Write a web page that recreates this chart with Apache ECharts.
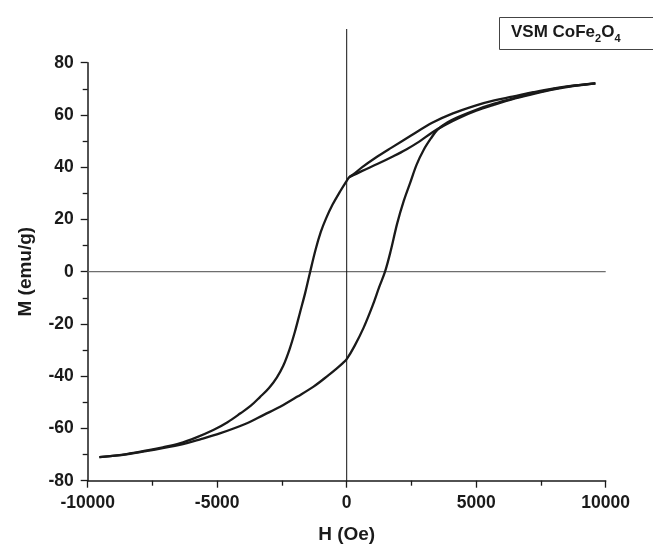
<!DOCTYPE html>
<html>
<head>
<meta charset="utf-8">
<script src="https://cdn.jsdelivr.net/npm/echarts@6/dist/echarts.min.js"></script>
<style>
  html, body { margin: 0; padding: 0; background: #ffffff; }
  #chart { width: 653px; height: 556px; }
</style>
</head>
<body>
<div id="chart"></div>
<script>
// Axis tick labels
const hTicks = [-10000, -5000, 0, 5000, 10000];
const mTicks = [-80, -60, -40, -20, 0, 20, 40, 60, 80];

// Field (Oe) / magnetization (emu/g) pairs, in measurement order.
// First sweep: from remanence up to the positive field limit.
const initialSweep = [
  [100, 36.2], [600, 38.6], [1200, 41.3], [1800, 44.2], [2300, 46.8],
  [2800, 49.8], [3300, 53.3], [3800, 56.2], [4300, 58.7], [5000, 61.6],
  [5700, 63.9], [6500, 66.3], [7300, 68.3], [8000, 69.8], [8800, 71.1],
  [9600, 72.1]
];

// Descending branch: +Hmax to -Hmax.
const descendingBranch = [
  [9600, 72.1], [8800, 71.3], [8000, 70.2], [7200, 68.7], [6400, 67.0],
  [5700, 65.6], [5000, 63.7], [4100, 60.6], [3300, 57.0], [2500, 52.2],
  [1700, 47.3], [1100, 43.5], [600, 40.0], [250, 37.2], [100, 36.2],
  [0, 34.8], [-250, 30.8], [-550, 25.6], [-800, 20.3], [-1000, 15.2],
  [-1200, 8.5], [-1410, 0], [-1600, -8.0], [-1800, -15.5], [-2000, -23.0],
  [-2200, -29.5], [-2450, -36.0], [-2700, -40.5], [-3000, -44.5],
  [-3350, -48.0], [-3700, -51.3], [-4100, -54.2], [-4600, -57.6],
  [-5150, -60.6], [-5800, -63.4], [-6450, -65.7], [-7100, -67.2],
  [-7700, -68.4], [-8500, -69.8], [-9550, -71.0]
];

// Ascending branch: -Hmax back to +Hmax.
const ascendingBranch = [
  [-9550, -71.0], [-8500, -69.9], [-7700, -68.6], [-6450, -66.3],
  [-5600, -64.0], [-4900, -61.9], [-3850, -58.0], [-3200, -54.8],
  [-2570, -51.7], [-1900, -47.8], [-1280, -44.0], [-700, -39.6],
  [-380, -37.0], [-150, -35.0], [0, -33.5], [300, -28.5], [650, -21.5],
  [1000, -13.0], [1250, -6.0], [1480, 0], [1700, 8.0], [1950, 18.5],
  [2200, 27.0], [2450, 34.0], [2700, 41.0], [2970, 46.6], [3250, 51.0],
  [3500, 54.3], [3900, 57.2], [4300, 59.2], [5000, 62.0], [5700, 64.3],
  [6500, 66.5], [7300, 68.5], [8000, 70.0], [8800, 71.2], [9600, 72.1]
];

// Reference lines through the origin
const zeroH = [[0, -80], [0, 92.9]];
const zeroM = [[-10000, 0], [10000, 0]];

const FONT = '"Liberation Sans", Arial, sans-serif';
const INK = '#1a1a1a';

const chart = echarts.init(document.getElementById('chart'), null, { renderer: 'canvas' });

const gridPos = { left: 87.7, right: 47.3 };

const loopStyle = {
  type: 'line',
  xAxisIndex: 0, yAxisIndex: 0,
  showSymbol: false,
  smooth: 0.35,
  lineStyle: { color: INK, width: 2.3 },
  z: 5,
  silent: true
};

const plainNumber = v => String(v);

chart.setOption({
  animation: false,
  backgroundColor: '#ffffff',
  title: {
    text: '{a|VSM CoFe}{s|2}{a|O}{s|4}',
    left: 499, top: 14,
    padding: [7, 34, 6, 12],
    borderColor: '#444444',
    borderWidth: 1,
    textStyle: {
      rich: {
        a: { fontFamily: FONT, fontWeight: 'bold', fontSize: 17, color: INK, lineHeight: 22 },
        s: { fontFamily: FONT, fontWeight: 'bold', fontSize: 11, color: INK, padding: [12, 0, 0, 0] }
      }
    }
  },
  grid: [
    { left: gridPos.left, right: gridPos.right, top: 62.7, bottom: 75.3, containLabel: false },
    { left: gridPos.left, right: gridPos.right, top: 29, bottom: 75.3, containLabel: false }
  ],
  xAxis: [
    {
      gridIndex: 0,
      type: 'value',
      min: hTicks[0], max: hTicks[hTicks.length - 1],
      interval: hTicks[1] - hTicks[0],
      name: 'H (Oe)',
      nameLocation: 'middle',
      nameGap: 45,
      nameTextStyle: { fontFamily: FONT, fontWeight: 'bold', fontSize: 19, color: INK },
      axisLine: { onZero: false, lineStyle: { color: INK, width: 1.5 } },
      axisTick: { show: true, inside: false, length: 7, lineStyle: { color: INK, width: 1.3 } },
      minorTick: { show: true, splitNumber: 2, length: 5, lineStyle: { color: INK, width: 1.3 } },
      axisLabel: { fontFamily: FONT, fontWeight: 'bold', fontSize: 17.5, color: INK, margin: 13, formatter: plainNumber },
      splitLine: { show: false }
    },
    {
      gridIndex: 1, type: 'value', min: -10000, max: 10000, show: false
    }
  ],
  yAxis: [
    {
      gridIndex: 0,
      type: 'value',
      min: mTicks[0], max: mTicks[mTicks.length - 1],
      interval: mTicks[1] - mTicks[0],
      name: 'M (emu/g)',
      nameLocation: 'middle',
      nameGap: 52,
      nameTextStyle: { fontFamily: FONT, fontWeight: 'bold', fontSize: 19, color: INK },
      axisLine: { onZero: false, lineStyle: { color: INK, width: 1.5 } },
      axisTick: { show: true, inside: false, length: 7, lineStyle: { color: INK, width: 1.3 } },
      minorTick: { show: true, splitNumber: 2, length: 5, lineStyle: { color: INK, width: 1.3 } },
      axisLabel: { fontFamily: FONT, fontWeight: 'bold', fontSize: 17.5, color: INK, margin: 14, formatter: plainNumber },
      splitLine: { show: false }
    },
    {
      gridIndex: 1, type: 'value', min: -80, max: 92.9, show: false
    }
  ],
  series: [
    {
      type: 'line', xAxisIndex: 0, yAxisIndex: 0, data: zeroM,
      showSymbol: false, silent: true,
      lineStyle: { color: '#6e6e6e', width: 1.3 }, z: 2
    },
    {
      type: 'line', xAxisIndex: 1, yAxisIndex: 1, data: zeroH,
      showSymbol: false, silent: true,
      lineStyle: { color: '#111111', width: 1 }, z: 2
    },
    Object.assign({ name: 'initial', data: initialSweep }, loopStyle),
    Object.assign({ name: 'descending', data: descendingBranch }, loopStyle),
    Object.assign({ name: 'ascending', data: ascendingBranch }, loopStyle)
  ]
});
</script>
</body>
</html>
